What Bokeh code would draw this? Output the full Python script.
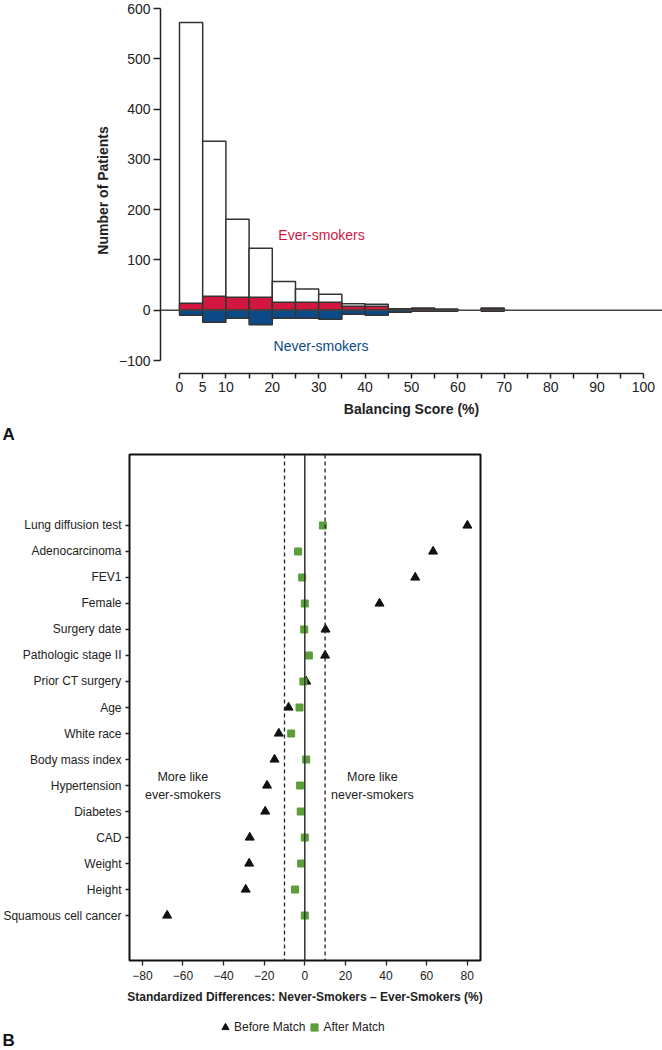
from bokeh.plotting import figure
from bokeh.models import Span, Label, FixedTicker, Legend, LegendItem
from bokeh.embed import file_html
from bokeh.resources import INLINE

# ---------------- Panel A data ----------------
bin_left = [0, 5, 10, 15, 20, 25, 30, 35, 40, 45, 50, 55, 65]
bin_width = 5
ever_total = [572, 336, 181, 123, 57, 42, 32, 13, 12, 3, 4, 2, 4]
ever_matched = [14, 28, 26, 26, 16, 16, 16, 8, 8, 3, 4, 2, 4]
never_matched = [10, 24, 16, 29, 16, 16, 18, 8, 10, 4, 2, 2, 2]
a_yticks = [-100, 0, 100, 200, 300, 400, 500, 600]
a_xticks = list(range(0, 101, 5))
a_xlabeled = [0, 5, 10, 20, 30, 40, 50, 60, 70, 80, 90, 100]

# ---------------- Panel B data ----------------
covariates = ["Lung diffusion test", "Adenocarcinoma", "FEV1", "Female",
              "Surgery date", "Pathologic stage II", "Prior CT surgery", "Age",
              "White race", "Body mass index", "Hypertension", "Diabetes",
              "CAD", "Weight", "Height", "Squamous cell cancer"]
before_match = [80.1, 63.2, 54.4, 36.8, 10.2, 10.0, 0.7, -8.0,
                -12.8, -14.9, -18.6, -19.5, -27.1, -27.4, -29.1, -67.8]
after_match = [8.9, -3.3, -1.3, 0.0, -0.3, 2.0, -0.7, -2.6,
               -6.7, 0.7, -2.3, -2.0, 0.0, -1.8, -4.8, 0.0]
b_xticks = [-80, -60, -40, -20, 0, 20, 40, 60, 80]
threshold = 10

RED = "#d2163f"
BLUE = "#0b4a86"
GREEN = "#5c9e3a"
INK = "#222222"
FONT = "Liberation Sans"
W = 662
NAN = float("nan")


def minus(t):
    return ("\u2212" + str(-t)) if t < 0 else str(t)


def strip_fig(h):
    f = figure(frame_width=W, frame_height=h, x_range=(0, W), y_range=(0, h),
               min_border_left=0, min_border_right=0, min_border_top=0,
               min_border_bottom=0, x_axis_location=None, y_axis_location=None,
               output_backend="svg", toolbar_location=None)
    f.grid.visible = False
    f.outline_line_color = None
    f.background_fill_color = None
    f.border_fill_color = None
    return f


# ---------------- Panel A ----------------
p1 = figure(frame_width=502, frame_height=366,
            x_range=(-4.095, 104.1), y_range=(-125.85, 602.0),
            min_border_left=160, min_border_right=0, min_border_top=7,
            min_border_bottom=48,
            output_backend="svg", toolbar_location=None)
p1.grid.visible = False
p1.outline_line_color = None
p1.background_fill_color = None
p1.border_fill_color = None

rights = [b + bin_width for b in bin_left]
zeros = [0] * len(bin_left)
neg_never = [-v for v in never_matched]
p1.quad(left=bin_left, right=rights, bottom=zeros, top=ever_total,
        fill_color="white", line_color="#333333", line_width=1.5)
p1.quad(left=bin_left, right=rights, bottom=zeros, top=ever_matched,
        fill_color=RED, line_color="#333333", line_width=1.5)
p1.quad(left=bin_left, right=rights, bottom=neg_never, top=zeros,
        fill_color=BLUE, line_color="#333333", line_width=1.5)
p1.add_layout(Span(location=0, dimension="width", line_color="#444444", line_width=1.5))

ya = p1.yaxis[0]
ya.ticker = FixedTicker(ticks=a_yticks)
ya.bounds = (-100, 600)
ya.major_label_overrides = {t: minus(t) for t in a_yticks}
ya.axis_label = "Number of Patients"
xa = p1.xaxis[0]
xa.ticker = FixedTicker(ticks=a_xticks)
xa.bounds = (0, 100)
xa.major_label_overrides = {t: (str(t) if t in a_xlabeled else "") for t in a_xticks}
xa.axis_label = "Balancing Score (%)"
for ax in (xa, ya):
    ax.axis_line_color = INK
    ax.axis_line_width = 1.5
    ax.major_tick_line_color = INK
    ax.major_tick_line_width = 1.5
    ax.major_tick_in = 0
    ax.minor_tick_line_color = None
    ax.major_label_text_font = FONT
    ax.major_label_text_font_size = "14px"
    ax.major_label_text_color = INK
    ax.axis_label_text_font = FONT
    ax.axis_label_text_font_size = "14px"
    ax.axis_label_text_font_style = "bold"
    ax.axis_label_text_color = INK
ya.major_tick_out = 7
ya.major_label_standoff = 3
ya.axis_label_standoff = 5
xa.major_tick_out = 5
xa.major_label_standoff = 3
xa.axis_label_standoff = 6

p1.add_layout(Label(x=30.6, y=150, text="Ever-smokers", text_color=RED,
                    text_font=FONT, text_font_size="14px",
                    text_align="center", text_baseline="middle"))
p1.add_layout(Label(x=30.5, y=-71, text="Never-smokers", text_color=BLUE,
                    text_font=FONT, text_font_size="14px",
                    text_align="center", text_baseline="middle"))

# strip holding the "A" panel letter
pa = strip_fig(27)
pa.add_layout(Label(x=2, y=14, x_units="screen", y_units="screen", text="A",
                    text_font=FONT, text_font_size="17px",
                    text_font_style="bold", text_color="#111111",
                    text_align="left", text_baseline="middle"))

# ---------------- Panel B ----------------
n = len(covariates)
ypos = [n - i for i in range(n)]

p2 = figure(frame_width=351, frame_height=506,
            x_range=(-86.35, 86.55), y_range=(-0.73, 18.73),
            min_border_left=127, min_border_right=184, min_border_top=6,
            min_border_bottom=50,
            output_backend="svg", toolbar_location=None)
p2.grid.visible = False
p2.outline_line_color = "#111111"
p2.outline_line_width = 2
p2.background_fill_color = None
p2.border_fill_color = None

p2.add_layout(Span(location=0, dimension="height", line_color="#333333", line_width=1.5))
p2.add_layout(Span(location=-threshold, dimension="height", line_color="#222222",
                   line_width=1.3, line_dash="4 3"))
p2.add_layout(Span(location=threshold, dimension="height", line_color="#222222",
                   line_width=1.3, line_dash="4 3"))

TRI = dict(marker="triangle", size=9, fill_color="#111111", line_color="#111111")
SQR = dict(marker="square", size=7, fill_color=GREEN, line_color=GREEN)
p2.scatter(x=before_match, y=ypos, **TRI)
p2.scatter(x=after_match, y=ypos, **SQR)

yb = p2.yaxis[0]
yb.ticker = FixedTicker(ticks=ypos)
yb.major_label_overrides = {y: c for y, c in zip(ypos, covariates)}
xb = p2.xaxis[0]
xb.ticker = FixedTicker(ticks=b_xticks)
xb.major_label_overrides = {t: minus(t) for t in b_xticks}
xb.axis_label = "Standardized Differences: Never-Smokers \u2013 Ever-Smokers (%)"
for ax in (xb, yb):
    ax.axis_line_color = None
    ax.major_tick_line_color = INK
    ax.major_tick_line_width = 1.3
    ax.major_tick_in = 0
    ax.minor_tick_line_color = None
    ax.major_label_text_font = FONT
    ax.major_label_text_font_size = "12px"
    ax.major_label_text_color = INK
    ax.axis_label_text_font = FONT
    ax.axis_label_text_font_size = "12px"
    ax.axis_label_text_font_style = "bold"
    ax.axis_label_text_color = INK
yb.major_tick_out = 4
yb.major_label_standoff = 4
xb.major_tick_out = 5
xb.major_label_standoff = 5
xb.axis_label_standoff = 7

for txt, yy in (("More like", 6.33), ("ever-smokers", 5.65)):
    p2.add_layout(Label(x=-60.1, y=yy, text=txt, text_font=FONT, text_font_size="12.5px",
                        text_color=INK, text_align="center", text_baseline="middle"))
for txt, yy in (("More like", 6.33), ("never-smokers", 5.65)):
    p2.add_layout(Label(x=33.3, y=yy, text=txt, text_font=FONT, text_font_size="12.5px",
                        text_color=INK, text_align="center", text_baseline="middle"))

# strip holding the legend and the "B" panel letter
pl = strip_fig(40)
lg_before = pl.scatter(x=[NAN], y=[NAN], **TRI)
lg_after = pl.scatter(x=[NAN], y=[NAN], **SQR)
legend = Legend(items=[LegendItem(label="Before Match", renderers=[lg_before]),
                       LegendItem(label="After Match", renderers=[lg_after])],
                orientation="horizontal", location=(216, 14),
                border_line_color=None, background_fill_color=None,
                label_text_font=FONT, label_text_font_size="12px",
                label_text_color=INK, glyph_width=18, glyph_height=18,
                label_standoff=0, spacing=0, padding=4, margin=0)
pl.add_layout(legend)
pl.add_layout(Label(x=2, y=10, x_units="screen", y_units="screen", text="B",
                    text_font=FONT, text_font_size="17px",
                    text_font_style="bold", text_color="#111111",
                    text_align="left", text_baseline="middle"))

# independent roots, stacked top to bottom (no frame alignment between them)
open("out.html", "w").write(file_html([p1, pa, p2, pl], INLINE))
